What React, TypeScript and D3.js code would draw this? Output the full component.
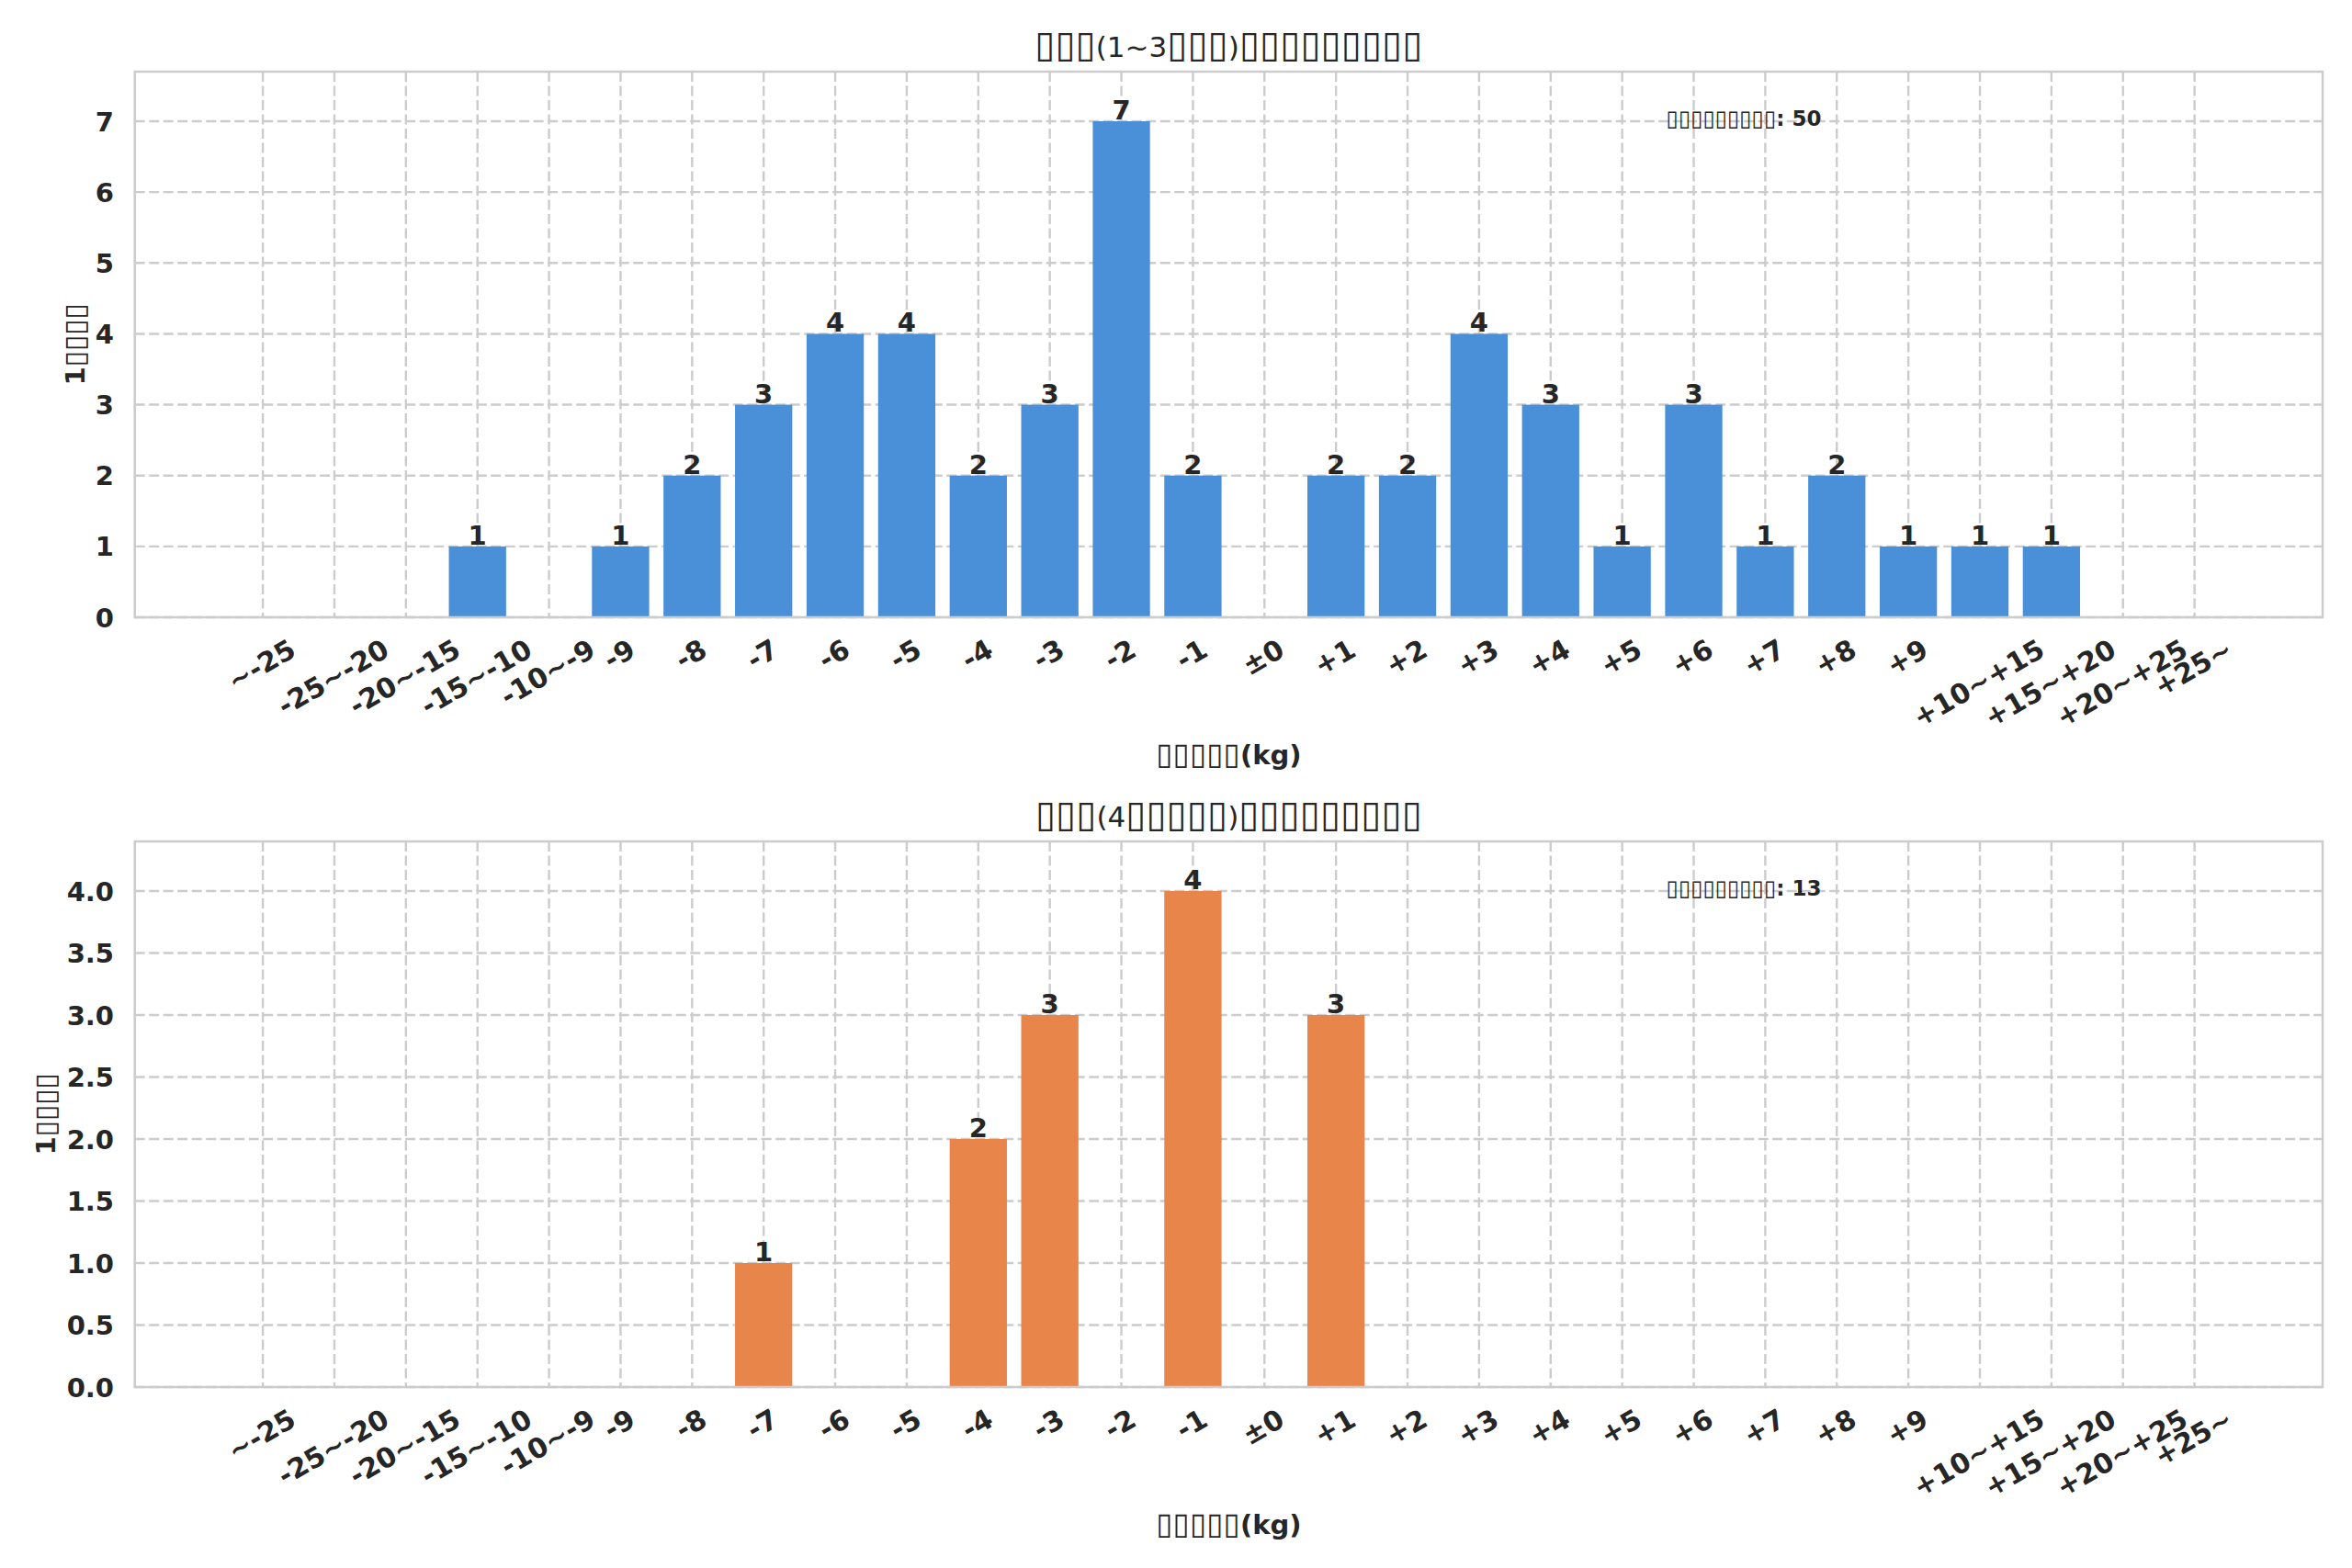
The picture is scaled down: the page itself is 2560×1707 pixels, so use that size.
import { useRef, useEffect } from "react";
import * as d3 from "d3";

// 重量変化ビン（カテゴリ）
const categories = [
  "~-25", "-25~-20", "-20~-15", "-15~-10", "-10~-9",
  "-9", "-8", "-7", "-6", "-5", "-4", "-3", "-2", "-1",
  "±0",
  "+1", "+2", "+3", "+4", "+5", "+6", "+7", "+8", "+9",
  "+10~+15", "+15~+20", "+20~+25", "+25~",
];

const countsUpper = [0, 0, 0, 1, 0, 1, 2, 3, 4, 4, 2, 3, 7, 2, 0, 2, 2, 4, 3, 1, 3, 1, 2, 1, 1, 1, 0, 0];
const countsLower = [0, 0, 0, 0, 0, 0, 0, 1, 0, 0, 2, 3, 0, 4, 0, 3, 0, 0, 0, 0, 0, 0, 0, 0, 0, 0, 0, 0];

const yTicksUpper = [0, 1, 2, 3, 4, 5, 6, 7];
const yTicksLower = [0, 0.5, 1, 1.5, 2, 2.5, 3, 3.5, 4];

// 元画像では日本語が豆腐（▯）表示になっている
const titleUpper = "▯▯▯(1~3▯▯▯)▯▯▯▯▯▯▯▯▯";
const titleLower = "▯▯▯(4▯▯▯▯▯)▯▯▯▯▯▯▯▯▯";
const xLabelText = "▯▯▯▯▯(kg)";
const yLabelText = "1▯▯▯▯";
const noteUpper = "▯▯▯▯▯▯▯▯▯: 50";
const noteLower = "▯▯▯▯▯▯▯▯▯: 13";

const W = 2560;
const H = 1707;
const FONT = "DejaVu Sans";
const TEXT = "#262626";

// split into runs so the box glyphs can be sized apart from the latin text
function tofuText(sel: any, str: string, size: number, boxScale: number) {
  const parts = str.match(/▯+|[^▯]+/g) || [];
  parts.forEach((part) => {
    const isBox = part[0] === "▯";
    sel.append("tspan")
      .attr("font-size", isBox ? size * boxScale : size)
      .attr("font-weight", isBox ? "normal" : null)
      .text(part);
  });
}

export default function App() {
  const svgRef = useRef(null);

  useEffect(() => {
    document.body.style.margin = "0";
    const svg = d3.select(svgRef.current);
    svg.selectAll("*").remove();
    svg.append("rect").attr("width", W).attr("height", H).attr("fill", "#ffffff");

    const left = 146.7;
    const right = 2528;

    const panels = [
      { top: 78, bottom: 672, data: countsUpper, ticks: yTicksUpper, fmt: d3.format("d"), color: "#4a90d9",
        title: titleUpper, note: noteUpper, yLabelX: 92 },
      { top: 916, bottom: 1510, data: countsLower, ticks: yTicksLower, fmt: d3.format(".1f"), color: "#e8854b",
        title: titleLower, note: noteLower, yLabelX: 60 },
    ];

    const n = categories.length;
    const pad = 0.05 * (n - 1 + 0.8);
    const x = d3.scaleLinear()
      .domain([-0.4 - pad, n - 1 + 0.4 + pad])
      .range([left, right]);

    panels.forEach((p) => {
      const ymax = (d3.max(p.data) ?? 1) * 1.1;
      const y = d3.scaleLinear().domain([0, ymax]).range([p.bottom, p.top]);
      const g = svg.append("g");

      // grid
      g.selectAll("line.vg").data(categories).enter().append("line")
        .attr("x1", (_, i) => x(i)).attr("x2", (_, i) => x(i))
        .attr("y1", p.top).attr("y2", p.bottom)
        .attr("stroke", "#cccccc").attr("stroke-width", 2.4).attr("stroke-dasharray", "11,4.5");
      g.selectAll("line.hg").data(p.ticks).enter().append("line")
        .attr("x1", left).attr("x2", right)
        .attr("y1", (d) => y(d)).attr("y2", (d) => y(d))
        .attr("stroke", "#cccccc").attr("stroke-width", 2.4).attr("stroke-dasharray", "11,4.5");

      // bars
      g.selectAll("rect.bar").data(p.data).enter().append("rect")
        .attr("x", (_, i) => x(i - 0.4))
        .attr("width", x(0.8) - x(0))
        .attr("y", (d) => y(d))
        .attr("height", (d) => p.bottom - y(d))
        .attr("fill", p.color);

      // spines
      g.append("rect")
        .attr("x", left).attr("y", p.top)
        .attr("width", right - left).attr("height", p.bottom - p.top)
        .attr("fill", "none").attr("stroke", "#cccccc").attr("stroke-width", 2.5);

      // value labels
      p.data.forEach((v, i) => {
        if (v <= 0) return;
        g.append("text")
          .attr("x", x(i)).attr("y", y(v) - 2)
          .attr("text-anchor", "middle")
          .attr("font-family", FONT).attr("font-weight", "bold").attr("font-size", 29)
          .attr("fill", TEXT)
          .text(v);
      });

      // y tick labels
      g.selectAll("text.yt").data(p.ticks).enter().append("text")
        .attr("x", 124).attr("y", (d) => y(d) + 10.5)
        .attr("text-anchor", "end")
        .attr("font-family", FONT).attr("font-weight", "bold").attr("font-size", 29)
        .attr("fill", TEXT)
        .text((d) => p.fmt(d));

      // x tick labels, rotated 30deg, centred on tick
      const a = 22;
      const dsc = 7;
      categories.forEach((c, i) => {
        const t = g.append("text")
          .attr("text-anchor", "middle")
          .attr("font-family", FONT).attr("font-weight", "bold").attr("font-size", 30)
          .attr("fill", TEXT)
          .text(c);
        const w = (t.node() as SVGTextElement).getComputedTextLength();
        const ax = x(i) - (dsc - a) / 4;
        const ay = p.bottom + 22 + w / 4 + 0.866 * a;
        t.attr("transform", `translate(${ax},${ay}) rotate(-30)`);
      });

      // axis labels
      const xl = g.append("text")
        .attr("x", (left + right) / 2).attr("y", p.bottom + 160)
        .attr("text-anchor", "middle")
        .attr("font-family", FONT).attr("font-weight", "bold")
        .attr("fill", TEXT);
      tofuText(xl, xLabelText, 29, 1.15);
      const yl = g.append("text")
        .attr("transform", `translate(${p.yLabelX},${(p.top + p.bottom) / 2}) rotate(-90)`)
        .attr("text-anchor", "middle")
        .attr("font-family", FONT).attr("font-weight", "bold")
        .attr("fill", TEXT);
      tofuText(yl, yLabelText, 29, 1.08);

      // title
      const tt = g.append("text")
        .attr("x", (left + right) / 2).attr("y", p.top - 16)
        .attr("text-anchor", "middle")
        .attr("font-family", FONT)
        .attr("fill", TEXT);
      tofuText(tt, p.title, 31, 1.3);

      // note
      const nt = g.append("text")
        .attr("x", left + 0.7 * (right - left)).attr("y", p.top + 58.7)
        .attr("font-family", FONT).attr("font-weight", "bold")
        .attr("fill", TEXT);
      tofuText(nt, p.note, 23, 1.05);
    });
  }, []);

  return <svg ref={svgRef} width={W} height={H} style={{ display: "block" }} />;
}
